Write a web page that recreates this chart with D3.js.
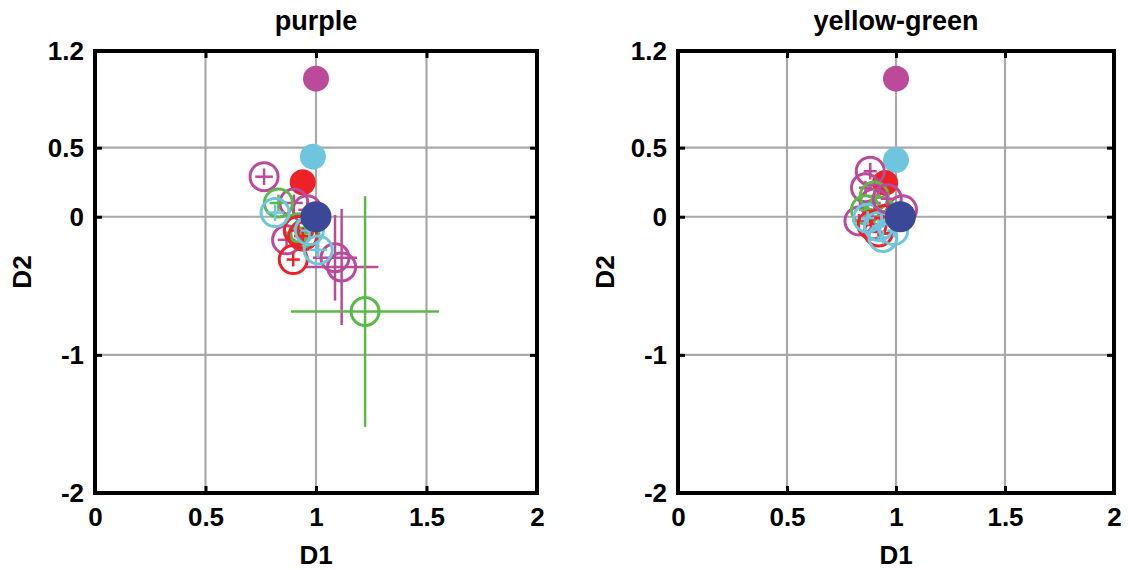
<!DOCTYPE html>
<html>
<head>
<meta charset="utf-8">
<script src="https://cdnjs.cloudflare.com/ajax/libs/d3/7.8.5/d3.min.js"></script>
<style>
  body { margin: 0; background: #fff; }
  text { font-family: "Liberation Sans", Arial, Helvetica, sans-serif; font-weight: bold; fill: #000; }
</style>
</head>
<body>
<div id="chart"></div>
<script>
// panel titles and axis ticks
var panelTitles = ["purple", "yellow-green"];
var xTicks = [0, 0.5, 1, 1.5, 2];
var yTicks = [-2, -1, 0, 0.5, 1.2];
var xGrid = [0.5, 1, 1.5];
var yGrid = [-1, 0, 0.5];

// filled reference points: [group, D1, D2]
var purpleFilled = [
  ["mag", 1.0, 1.0],
  ["lblue", 0.986, 0.435],
  ["red", 0.94, 0.25],
  ["dblue", 1.0, 0.0]
];
var yellowGreenFilled = [
  ["mag", 1.0, 1.0],
  ["lblue", 1.0, 0.41],
  ["red", 0.95, 0.245],
  ["dblue", 1.02, 0.0]
];

// open points with error bars: [group, D1, D2, errD1, errD2]
var purpleOpen = [
  ["m", 0.765, 0.29, 0.04, 0.06],
  ["m", 0.90, 0.10, 0.04, 0.06],
  ["m", 0.867, -0.167, 0.04, 0.06],
  ["m", 0.96, 0.05, 0.04, 0.06],
  ["m", 1.086, -0.297, 0.10, 0.31],
  ["m", 1.116, -0.364, 0.166, 0.42],
  ["g", 0.83, 0.10, 0.04, 0.06],
  ["g", 0.92, -0.08, 0.04, 0.06],
  ["g", 0.95, -0.12, 0.04, 0.06],
  ["g", 1.222, -0.686, 0.335, 0.835],
  ["r", 0.897, -0.31, 0.03, 0.05],
  ["r", 0.94, -0.14, 0.04, 0.06],
  ["r", 0.92, -0.10, 0.04, 0.06],
  ["c", 0.815, 0.03, 0.04, 0.06],
  ["c", 1.01, -0.24, 0.04, 0.06],
  ["c", 0.97, -0.10, 0.04, 0.06]
];
var yellowGreenOpen = [
  ["m", 0.882, 0.33, 0.03, 0.06],
  ["m", 0.86, 0.21, 0.03, 0.05],
  ["m", 0.83, -0.03, 0.03, 0.05],
  ["m", 1.03, 0.05, 0.03, 0.05],
  ["m", 0.90, 0.10, 0.03, 0.05],
  ["g", 0.86, 0.05, 0.03, 0.05],
  ["g", 0.93, 0.04, 0.03, 0.05],
  ["g", 0.90, 0.15, 0.03, 0.05],
  ["r", 0.89, -0.06, 0.03, 0.05],
  ["r", 0.95, -0.02, 0.03, 0.05],
  ["r", 0.92, -0.11, 0.03, 0.05],
  ["c", 0.92, -0.07, 0.03, 0.05],
  ["c", 0.94, -0.15, 0.03, 0.05],
  ["c", 0.99, -0.10, 0.03, 0.05],
  ["c", 0.87, -0.01, 0.03, 0.05],
  ["m", 0.96, 0.13, 0.03, 0.05]
];

var color = d3.scaleOrdinal()
  .domain(["mag", "lblue", "red", "dblue", "m", "g", "r", "c"])
  .range(["#bb4a9a", "#6ec5de", "#ec2227", "#3b4897", "#bb4a9a", "#5cb947", "#ec2227", "#6ec5de"]);

var svg = d3.select("#chart").append("svg")
  .attr("width", 1128)
  .attr("height", 570);

function drawPanel(title, filled, open, left, right) {
  var x = d3.scaleLinear().domain([0, 2]).range([left, right]);
  var y = d3.scaleLinear().domain([-2, 1.2]).range([493, 51]);
  var g = svg.append("g");

  // grid
  g.selectAll(".gx").data(xGrid).enter().append("line")
    .attr("x1", d => x(d)).attr("x2", d => x(d))
    .attr("y1", y(1.2)).attr("y2", y(-2))
    .attr("stroke", "#a8a8a8").attr("stroke-width", 2.2);
  g.selectAll(".gy").data(yGrid).enter().append("line")
    .attr("x1", x(0)).attr("x2", x(2))
    .attr("y1", d => y(d)).attr("y2", d => y(d))
    .attr("stroke", "#a8a8a8").attr("stroke-width", 2.2);

  // axes (labels + inward ticks)
  var xAxis = g.append("g").attr("transform", "translate(0," + y(-2) + ")")
    .call(d3.axisBottom(x).tickValues(xTicks).tickFormat(d => String(d)).tickSize(-7).tickPadding(15));
  var xTop = g.append("g").attr("transform", "translate(0," + y(1.2) + ")")
    .call(d3.axisTop(x).tickValues(xGrid).tickFormat("").tickSize(-7));
  var yAxis = g.append("g").attr("transform", "translate(" + x(0) + ",0)")
    .call(d3.axisLeft(y).tickValues(yTicks).tickFormat(d => String(d)).tickSize(-7).tickPadding(11));
  var yRight = g.append("g").attr("transform", "translate(" + x(2) + ",0)")
    .call(d3.axisRight(y).tickValues(yGrid).tickFormat("").tickSize(-7));
  [xAxis, xTop, yAxis, yRight].forEach(function(a) {
    a.select(".domain").remove();
    a.selectAll("line").attr("stroke", "#000").attr("stroke-width", 3);
    a.selectAll("text").style("font-size", "26px")
      .style("font-family", "Liberation Sans, Arial, sans-serif").style("font-weight", "bold");
  });
  xAxis.selectAll(".tick").filter(d => d === 0 || d === 2).select("line").remove();
  yAxis.selectAll(".tick").filter(d => d === 1.2 || d === -2).select("line").remove();

  // frame
  g.append("rect")
    .attr("x", x(0)).attr("y", y(1.2))
    .attr("width", x(2) - x(0)).attr("height", y(-2) - y(1.2))
    .attr("fill", "none").attr("stroke", "#000").attr("stroke-width", 4);

  // filled points except the dark blue one
  var under = filled.filter(d => d[0] !== "dblue");
  var over = filled.filter(d => d[0] === "dblue");
  g.selectAll(".f").data(under).enter().append("circle")
    .attr("cx", d => x(d[1])).attr("cy", d => y(d[2]))
    .attr("r", 13).attr("fill", d => color(d[0]));

  // open points with error bars
  var pts = g.selectAll(".o").data(open).enter().append("g");
  pts.append("line")
    .attr("x1", d => x(d[1] - d[3])).attr("x2", d => x(d[1] + d[3]))
    .attr("y1", d => y(d[2])).attr("y2", d => y(d[2]))
    .attr("stroke", d => color(d[0])).attr("stroke-width", 2.5);
  pts.append("line")
    .attr("x1", d => x(d[1])).attr("x2", d => x(d[1]))
    .attr("y1", d => y(d[2] - d[4])).attr("y2", d => y(d[2] + d[4]))
    .attr("stroke", d => color(d[0])).attr("stroke-width", 2.5);
  pts.append("circle")
    .attr("cx", d => x(d[1])).attr("cy", d => y(d[2]))
    .attr("r", 14).attr("fill", "none")
    .attr("stroke", d => color(d[0])).attr("stroke-width", 3);

  g.selectAll(".fo").data(over).enter().append("circle")
    .attr("cx", d => x(d[1])).attr("cy", d => y(d[2]))
    .attr("r", 15.5).attr("fill", d => color(d[0]));

  // labels
  g.append("text").attr("x", x(1)).attr("y", 30).attr("text-anchor", "middle")
    .style("font-size", "27px").text(title);
  g.append("text").attr("x", x(1)).attr("y", 564).attr("text-anchor", "middle")
    .style("font-size", "26px").text("D1");
  g.append("text").attr("transform", "translate(" + (x(0) - 64) + "," + y(-0.4) + ") rotate(-90)")
    .attr("text-anchor", "middle").style("font-size", "26px").text("D2");
}

drawPanel(panelTitles[0], purpleFilled, purpleOpen, 95, 537);
drawPanel(panelTitles[1], yellowGreenFilled, yellowGreenOpen, 678, 1114);
</script>
</body>
</html>
